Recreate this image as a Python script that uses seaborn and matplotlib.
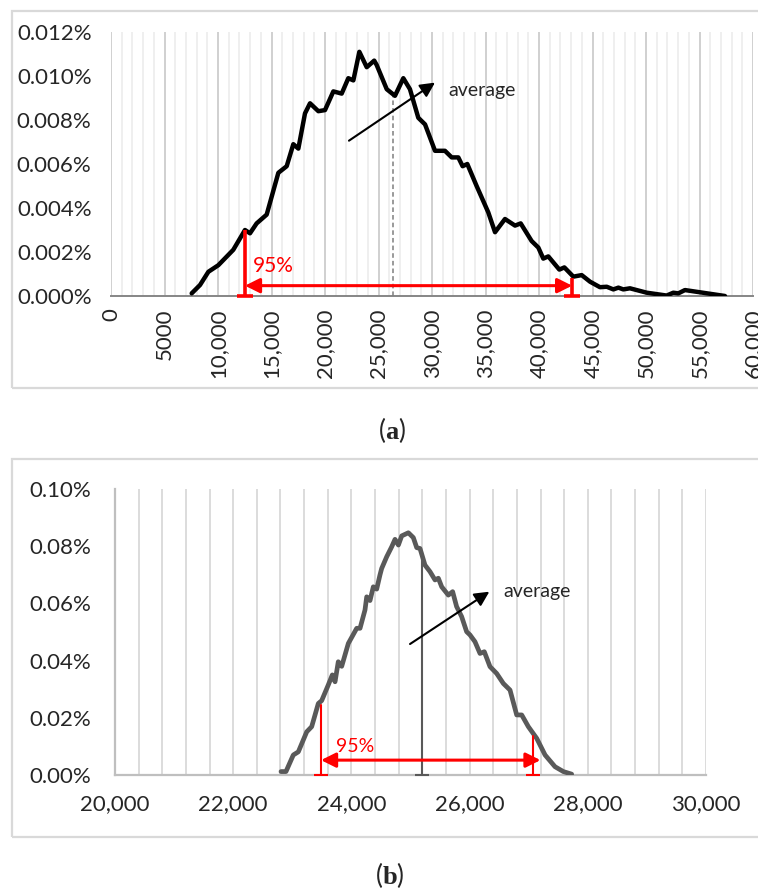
import numpy as np
import pandas as pd
import matplotlib
matplotlib.use("Agg")
import matplotlib.pyplot as plt
from matplotlib.patches import Rectangle
from matplotlib.ticker import FuncFormatter
import seaborn as sns

# ---------------- data (panel a) ----------------
a_x = [7540, 8320, 9100, 10030, 11430, 12520, 12990, 13610, 14550, 15640, 16420, 17040,
       17510, 18130, 18600, 19380, 20000, 20780, 21560, 22180, 22650, 23210, 23900, 24600,
       24830, 25770, 26540, 27320, 27940, 28720, 29350, 30280, 31210, 31840, 32460, 32860,
       33300, 34170, 35260, 35890, 36820, 37760, 38290, 39310, 39940, 40400, 40870, 41900,
       42370, 43210, 43990, 44770, 45700, 46330, 46950, 47420, 47880, 48500, 50070, 51930,
       52550, 53020, 53640, 57380]
a_y = [0.00012, 0.0005, 0.0011, 0.0014, 0.0021, 0.0030, 0.00285, 0.0033, 0.0037, 0.0056,
       0.0059, 0.0069, 0.0067, 0.0083, 0.00876, 0.0084, 0.00845, 0.0093, 0.0092, 0.0099,
       0.0098, 0.0111, 0.0104, 0.0107, 0.0105, 0.0094, 0.0091, 0.0099, 0.0094, 0.0081,
       0.0078, 0.0066, 0.0066, 0.0063, 0.0063, 0.0059, 0.0060, 0.0050, 0.0038, 0.0029,
       0.0035, 0.0032, 0.0033, 0.0025, 0.0022, 0.0017, 0.0018, 0.0012, 0.0013, 0.00088,
       0.00095, 0.00065, 0.0004, 0.00042, 0.0003, 0.00038, 0.0003, 0.00035, 0.00015,
       0.00002, 0.00015, 0.00012, 0.00027, 0.0]
a_ci_x = [12520, 43100]
a_ci_y = [0.0030, 0.0008]
a_ci_arrow_y = 0.00047
a_mean_x = 26330
a_mean_y = 0.0091
a_xticks = list(range(0, 60001, 5000))
a_xticklabels = ["0", "5000", "10,000", "15,000", "20,000", "25,000", "30,000",
                 "35,000", "40,000", "45,000", "50,000", "55,000", "60,000"]
a_yticks = [0.000, 0.002, 0.004, 0.006, 0.008, 0.010, 0.012]

# ---------------- data (panel b) ----------------
b_x = [22809, 22893, 23017, 23102, 23244, 23328, 23440, 23497, 23609, 23677, 23723, 23778,
       23836, 23948, 24090, 24146, 24230, 24259, 24315, 24371, 24428, 24484, 24512, 24597,
       24682, 24738, 24795, 24851, 24964, 25048, 25105, 25161, 25245, 25330, 25415, 25471,
       25528, 25640, 25713, 25780, 25865, 25950, 26006, 26091, 26176, 26249, 26345, 26458,
       26571, 26684, 26797, 26882, 26994, 27136, 27277, 27445, 27586, 27727]
b_y = [0.0012, 0.0012, 0.0070, 0.0081, 0.0151, 0.0169, 0.0250, 0.0260, 0.0315, 0.0350,
       0.0326, 0.0396, 0.0380, 0.0460, 0.0513, 0.0513, 0.0577, 0.0623, 0.0610, 0.0658,
       0.0650, 0.0700, 0.0722, 0.0763, 0.0798, 0.0824, 0.0804, 0.0836, 0.0847, 0.0830,
       0.0795, 0.0792, 0.0734, 0.0711, 0.0682, 0.0688, 0.0658, 0.0629, 0.0641, 0.0589,
       0.0554, 0.0501, 0.0490, 0.0466, 0.0425, 0.0431, 0.0379, 0.0355, 0.0320, 0.0297,
       0.0210, 0.0210, 0.0169, 0.0128, 0.0070, 0.0029, 0.0012, 0.0003]
b_ci_x = [23486, 27080]
b_ci_y = [0.0245, 0.0136]
b_ci_arrow_y = 0.0052
b_mean_x = 25190
b_mean_y = 0.0778
b_xticks = [20000, 22000, 24000, 26000, 28000, 30000]
b_xticklabels = ["20,000", "22,000", "24,000", "26,000", "28,000", "30,000"]
b_yticks = [0.00, 0.02, 0.04, 0.06, 0.08, 0.10]

dfa = pd.DataFrame({"x": a_x, "y": a_y})
dfb = pd.DataFrame({"x": b_x, "y": b_y})

sns.set_style("white")
plt.rcParams["font.family"] = ["Lato", "DejaVu Sans"]
plt.rcParams["mathtext.fontset"] = "custom"
plt.rcParams["mathtext.rm"] = "Liberation Serif"
plt.rcParams["mathtext.bf"] = "Liberation Serif:bold"

W, H = 758, 891
fig = plt.figure(figsize=(W / 100, H / 100), dpi=100)

def fx(px):
    return px / W

def fy(py):
    return 1 - py / H

# outer boxes
for top, bot in [(11, 388), (459, 837)]:
    fig.patches.append(Rectangle((fx(12), fy(bot)), fx(800) - fx(12), fy(top) - fy(bot),
                                 transform=fig.transFigure, fill=False,
                                 edgecolor="#d9d9d9", lw=1.6, zorder=0))

RED = "#ff0000"
TICK_FS = 16

# ---------------- panel a ----------------
axa = fig.add_axes([fx(111), fy(296), fx(753) - fx(111), fy(32) - fy(296)])
axa.set_xlim(0, 60000)
axa.set_ylim(0, 0.012)
axa.set_xticks(a_xticks)
axa.set_xticklabels(a_xticklabels, rotation=90, fontsize=TICK_FS)
axa.set_xticks(np.arange(0, 60001, 1000), minor=True)
axa.set_yticks(a_yticks)
axa.yaxis.set_major_formatter(FuncFormatter(lambda v, p: f"{v:.3f}%"))
axa.tick_params(axis="y", labelsize=TICK_FS, length=0, pad=14)
axa.tick_params(axis="x", which="major", length=5, color="#868686", width=1.2, pad=4)
axa.tick_params(axis="x", which="minor", length=0)
axa.grid(False)
axa.grid(True, axis="x", which="minor", color="#ececec", lw=1.2)
axa.grid(True, axis="x", which="major", color="#d0d0d0", lw=1.4)
for s in ["left", "right", "top"]:
    axa.spines[s].set_visible(False)
axa.spines["bottom"].set_color("#868686")
axa.spines["bottom"].set_linewidth(1.4)

sns.lineplot(data=dfa, x="x", y="y", ax=axa, color="black", lw=3.2, sort=False,
             estimator=None, zorder=5, solid_joinstyle="round", solid_capstyle="round")
axa.set_xlabel("")
axa.set_ylabel("")
# mean line
axa.plot([a_mean_x, a_mean_x], [0, a_mean_y], color="#7f7f7f", lw=1.1, ls=(0, (3, 2)), zorder=4)
# CI lines
for cx, cy in zip(a_ci_x, a_ci_y):
    axa.plot([cx, cx], [0, cy], color=RED, lw=2.6, zorder=6, solid_capstyle="butt")
    axa.plot([cx], [0], marker="_", ms=12, mew=2.6, color=RED, zorder=6, clip_on=False)
axa.annotate("", xy=(a_ci_x[1], a_ci_arrow_y), xytext=(a_ci_x[0], a_ci_arrow_y),
             arrowprops=dict(arrowstyle="<|-|>", color=RED, lw=2.2, mutation_scale=22,
                             shrinkA=0, shrinkB=0), zorder=6)
axa.text(15200, 0.00137, "95%", color=RED, fontsize=15, ha="center", va="center")
axa.annotate("", xy=(30280, 0.0097), xytext=(22240, 0.00706),
             arrowprops=dict(arrowstyle="-|>", color="black", lw=1.5, mutation_scale=22,
                             shrinkA=0, shrinkB=0), zorder=7)
axa.text(31500, 0.00936, "average", fontsize=14, ha="left", va="center")

fig.text(fx(392), fy(430), r"($\mathbf{a}$)", fontsize=19, ha="center", va="center")

# ---------------- panel b ----------------
axb = fig.add_axes([fx(115), fy(775), fx(706) - fx(115), fy(489) - fy(775)])
axb.set_xlim(20000, 30000)
axb.set_ylim(0, 0.10)
axb.set_xticks(b_xticks)
axb.set_xticklabels(b_xticklabels, fontsize=TICK_FS)
axb.set_xticks(np.arange(20000, 30001, 400), minor=True)
axb.set_yticks(b_yticks)
axb.yaxis.set_major_formatter(FuncFormatter(lambda v, p: f"{v:.2f}%"))
axb.tick_params(axis="y", labelsize=TICK_FS, length=7, color="#bfbfbf", width=1.4, pad=10)
axb.tick_params(axis="x", which="both", length=0, pad=14)
axb.grid(False)
axb.grid(True, axis="x", which="both", color="#d9d9d9", lw=1.3)
for s in ["right", "top"]:
    axb.spines[s].set_visible(False)
for s in ["left", "bottom"]:
    axb.spines[s].set_color("#bfbfbf")
    axb.spines[s].set_linewidth(1.6)

sns.lineplot(data=dfb, x="x", y="y", ax=axb, color="#595959", lw=3.4, sort=False,
             estimator=None, zorder=5, solid_joinstyle="round", solid_capstyle="round")
axb.set_xlabel("")
axb.set_ylabel("")
axb.plot([b_mean_x, b_mean_x], [0, b_mean_y], color="#595959", lw=1.5, zorder=4)
axb.plot([b_mean_x], [0], marker="_", ms=10, mew=1.5, color="#595959", zorder=4, clip_on=False)
for cx, cy in zip(b_ci_x, b_ci_y):
    axb.plot([cx, cx], [0, cy], color=RED, lw=1.5, zorder=6)
    axb.plot([cx], [0], marker="_", ms=10, mew=1.5, color=RED, zorder=6, clip_on=False)
axb.annotate("", xy=(b_ci_x[1] + 120, b_ci_arrow_y), xytext=(b_ci_x[0], b_ci_arrow_y),
             arrowprops=dict(arrowstyle="<|-|>", color=RED, lw=2.2, mutation_scale=22,
                             shrinkA=0, shrinkB=0), zorder=6)
axb.text(24060, 0.0098, "95%", color=RED, fontsize=14, ha="center", va="center")
axb.annotate("", xy=(26334, 0.0641), xytext=(24992, 0.0458),
             arrowprops=dict(arrowstyle="-|>", color="black", lw=1.5, mutation_scale=22,
                             shrinkA=0, shrinkB=0), zorder=7)
axb.text(26570, 0.0640, "average", fontsize=14, ha="left", va="center")

fig.text(fx(390), fy(875), r"($\mathbf{b}$)", fontsize=19, ha="center", va="center")

fig.savefig("out.png", dpi=100)
